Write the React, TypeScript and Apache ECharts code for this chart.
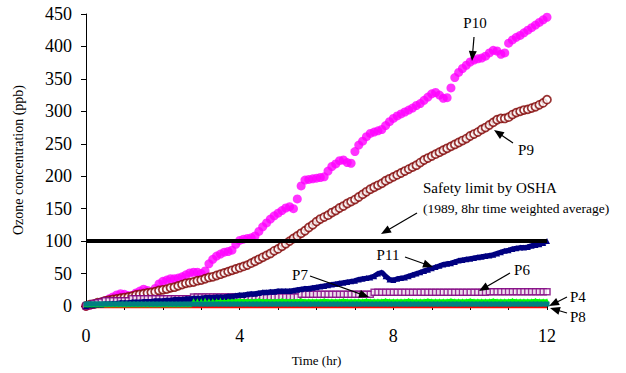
import React, { useEffect, useRef } from "react";
import * as echarts from "echarts";

// Sampling times (hours) shared by all series
const TIME: number[] = Array.from({ length: 121 }, (_, i) => i / 10);

const X_LABELS = [0, 4, 8, 12];
const OSHA_LIMIT = 100;

const P10 = [
  0, 1, 3, 4, 6, 8, 11, 14, 17, 19,
  18, 16, 16, 20, 23, 26, 24, 20, 27, 34,
  38, 40, 42, 42, 43, 45, 48, 51, 52, 52,
  50, 54, 65, 72, 77, 80, 83, 84, 86, 95,
  101, 103, 104, 105, 108, 115, 122, 128, 134, 139,
  143, 147, 151, 153, 150, 165, 185, 194, 195, 196,
  197, 198, 199, 208, 215, 219, 224, 225, 221, 220,
  238, 248, 254, 261, 266, 268, 270, 272, 278, 284,
  289, 293, 296, 299, 302, 305, 309, 312, 317, 322,
  327, 329, 325, 320, 321, 336, 352, 360, 366, 371,
  376, 379, 381, 382, 385, 390, 394, 393, 388, 390,
  405, 410, 414, 417, 421, 425, 429, 433, 437, 441,
  445,
];

const P9 = [
  0, 2, 3, 5, 6, 8, 9, 10, 11, 12,
  13, 14, 15, 17, 18, 19, 20, 21, 22, 24,
  25, 26, 28, 29, 31, 33, 35, 36, 37, 39,
  40, 42, 44, 45, 47, 49, 51, 53, 55, 57,
  59, 61, 63, 66, 69, 72, 75, 78, 81, 85,
  88, 92, 96, 100, 104, 108, 112, 116, 121, 125,
  130, 134, 137, 140, 144, 147, 151, 154, 158, 161,
  164, 168, 172, 176, 180, 183, 186, 189, 193, 196,
  199, 202, 205, 208, 211, 214, 217, 221, 225, 228,
  231, 234, 237, 240, 243, 246, 249, 252, 255, 258,
  262, 265, 268, 272, 275, 279, 283, 287, 289, 289,
  291, 295, 298, 300, 302, 303, 305, 307, 310, 313,
  318,
];

const P11 = [
  0, 1, 1, 2, 2, 3, 3, 4, 4, 5,
  5, 5, 6, 6, 6, 7, 7, 7, 8, 8,
  8, 9, 9, 10, 10, 10, 11, 11, 12, 12,
  12, 13, 13, 13, 14, 14, 14, 15, 15, 16,
  17, 17, 18, 19, 19, 20, 21, 21, 22, 22,
  23, 23, 23, 23, 24, 25, 26, 27, 27, 28,
  29, 30, 31, 32, 33, 34, 35, 36, 37, 38,
  39, 41, 42, 43, 44, 46, 50, 52, 46, 41,
  40, 42, 43, 44, 46, 48, 50, 52, 54, 56,
  58, 60, 62, 64, 65, 66, 68, 70, 71, 72,
  73, 74, 75, 76, 77, 78, 79, 81, 83, 85,
  86, 88, 89, 90, 90, 91, 93, 94, 95, 97,
  100,
];

const P6 = [
  0, 2, 4, 5, 6, 8, 8, 8, 8, 8,
  8, 8, 11, 11, 11, 11, 11, 11, 11, 11,
  11, 11, 11, 11, 11, 11, 11, 11, 14, 14,
  14, 14, 14, 14, 14, 14, 14, 14, 14, 14,
  14, 14, 14, 14, 14, 14, 14, 14, 14, 14,
  14, 14, 14, 14, 14, 14, 18, 18, 18, 18,
  18, 18, 18, 18, 18, 18, 18, 18, 18, 18,
  18, 18, 18, 18, 18, 21, 21, 21, 21, 21,
  21, 21, 21, 21, 21, 21, 21, 21, 21, 21,
  21, 21, 21, 21, 21, 21, 21, 21, 21, 21,
  21, 21, 21, 21, 21, 22, 22, 22, 22, 22,
  22, 22, 22, 22, 22, 22, 22, 22, 22, 22,
  22,
];

const P7 = [
  2, 2, 2, 2, 2, 2, 2, 2, 2, 2,
  2, 2, 2, 2, 2, 2, 2, 2, 2, 2,
  2, 2, 2, 2, 2, 2, 2, 2, 8, 8,
  8, 9, 8, 8, 8, 9, 8, 8, 8, 8,
  9, 8, 8, 8, 8, 9, 8, 8, 8, 8,
  8, 9, 8, 8, 8, 8, 9, 8, 8, 8,
  8, 8, 9, 8, 8, 8, 8, 9, 8, 8,
  8, 8, 8, 9, 8, 8, 8, 8, 9, 8,
  8, 8, 8, 8, 9, 8, 8, 8, 8, 9,
  8, 8, 8, 8, 8, 9, 8, 8, 8, 8,
  9, 8, 8, 8, 8, 8, 9, 8, 8, 8,
  8, 9, 8, 8, 8, 8, 8, 9, 8, 8,
  8,
];

const P4 = [
  3, 3, 3, 3, 3, 3, 3, 3, 3, 3,
  3, 3, 3, 3, 3, 3, 3, 3, 3, 3,
  3, 3, 3, 3, 3, 3, 3, 3, 3, 3,
  3, 3, 3, 3, 3, 3, 3, 3, 3, 3,
  3, 3, 3, 3, 3, 3, 3, 3, 3, 3,
  3, 3, 3, 3, 3, 3, 3, 3, 3, 3,
  3, 3, 3, 3, 3, 3, 3, 3, 3, 3,
  3, 3, 3, 3, 3, 3, 3, 3, 3, 3,
  3, 3, 3, 3, 3, 3, 3, 3, 3, 3,
  3, 3, 3, 3, 3, 3, 3, 3, 3, 3,
  3, 3, 3, 3, 3, 3, 3, 3, 3, 3,
  3, 3, 3, 3, 3, 3, 3, 3, 3, 3,
  3,
];

const P8 = [
  -2, -2, -2, -2, -2, -2, -2, -2, -2, -2,
  -2, -2, -2, -2, -2, -2, -2, -2, -2, -2,
  -2, -2, -2, -2, -2, -2, -2, -2, -2, -2,
  -2, -2, -2, -2, -2, -2, -2, -2, -2, -2,
  -2, -2, -2, -2, -2, -2, -2, -2, -2, -2,
  -2, -2, -2, -2, -2, -2, -2, -2, -2, -2,
  -2, -2, -2, -2, -2, -2, -2, -2, -2, -2,
  -2, -2, -2, -2, -2, -2, -2, -2, -2, -2,
  -2, -2, -2, -2, -2, -2, -2, -2, -2, -2,
  -2, -2, -2, -2, -2, -2, -2, -2, -2, -2,
  -2, -2, -2, -2, -2, -2, -2, -2, -2, -2,
  -2, -2, -2, -2, -2, -2, -2, -2, -2, -2,
  -2,
];

const FONT = "'Liberation Serif', 'Times New Roman', serif";

const pairs = (vals: number[]) => vals.map((v, i) => [TIME[i], v]);

function arrow(x1: number, y1: number, x2: number, y2: number) {
  const dx = x2 - x1;
  const dy = y2 - y1;
  const len = Math.hypot(dx, dy);
  const ux = dx / len;
  const uy = dy / len;
  const hl = 10;
  const hw = 4;
  const bx = x2 - ux * hl;
  const by = y2 - uy * hl;
  const px = -uy;
  const py = ux;
  return [
    {
      type: "line",
      z: 100,
      shape: { x1, y1, x2: bx + ux * 2, y2: by + uy * 2 },
      style: { stroke: "#000", lineWidth: 1.2 },
    },
    {
      type: "polygon",
      z: 100,
      shape: {
        points: [
          [x2, y2],
          [bx + px * hw, by + py * hw],
          [bx - px * hw, by - py * hw],
        ],
      },
      style: { fill: "#000" },
    },
  ];
}

function label(text: string, x: number, y: number, size: number, align = "center") {
  return {
    type: "text",
    z: 100,
    x,
    y,
    style: {
      text,
      fill: "#000",
      font: `${size}px ${FONT}`,
      align,
      verticalAlign: "middle",
    },
  };
}

export default function App() {
  const ref = useRef<HTMLDivElement>(null);

  useEffect(() => {
    document.body.style.margin = "0";
    if (!ref.current) return;
    const chart = echarts.init(ref.current, undefined, { renderer: "svg" });

    const graphic: any[] = [
      label("P10", 475, 23, 15),
      ...arrow(474, 37, 472, 61),
      label("P9", 526, 150, 15),
      ...arrow(513, 143, 494, 130),
      label("Safety limit by OSHA", 423, 188, 15, "left"),
      label("(1989, 8hr time weighted average)", 423, 208, 13.5, "left"),
      ...arrow(417, 213, 381, 234),
      label("P11", 388, 255, 15),
      ...arrow(405, 257, 433, 267),
      label("P6", 522, 270, 15),
      ...arrow(510, 273, 479, 291),
      label("P7", 300, 275, 15),
      ...arrow(310, 276, 369, 297),
      label("P4", 570, 297, 15, "left"),
      ...arrow(567, 297, 549, 306),
      label("P8", 570, 317, 15, "left"),
      ...arrow(567, 313, 550, 308),
    ];

    chart.setOption({
      animation: false,
      backgroundColor: "#fff",
      grid: { left: 86, top: 14, width: 461, height: 292 },
      xAxis: {
        type: "value",
        min: 0,
        max: 12,
        interval: 1,
        axisLine: { show: true, onZero: false, lineStyle: { color: "#000", width: 1 } },
        axisTick: { show: true, length: 4, lineStyle: { color: "#000" } },
        axisLabel: {
          margin: 21,
          fontSize: 18,
          fontFamily: FONT,
          color: "#000",
          formatter: (v: number) => (X_LABELS.includes(v) ? String(v) : ""),
        },
        splitLine: { show: false },
        name: "Time (hr)",
        nameLocation: "middle",
        nameGap: 48,
        nameTextStyle: { fontSize: 13, fontFamily: FONT, color: "#000" },
      },
      yAxis: {
        type: "value",
        min: 0,
        max: 450,
        interval: 50,
        axisLine: { show: true, lineStyle: { color: "#000", width: 1 } },
        axisTick: { show: true, length: 5, lineStyle: { color: "#000" } },
        axisLabel: { margin: 14, fontSize: 18, fontFamily: FONT, color: "#000" },
        splitLine: { show: false },
        name: "Ozone concentration (ppb)",
        nameLocation: "middle",
        nameGap: 61,
        nameRotate: 90,
        nameTextStyle: { fontSize: 14, fontFamily: FONT, color: "#000" },
      },
      series: [
        {
          name: "P10",
          type: "scatter",
          data: pairs(P10),
          symbol: "circle",
          symbolSize: 9,
          itemStyle: { color: "#FF00FF" },
        },
        {
          name: "P9",
          type: "scatter",
          data: pairs(P9),
          symbol: "circle",
          symbolSize: 8,
          itemStyle: { color: "#fff", borderColor: "#800000", borderWidth: 1.7 },
        },
        {
          name: "P11",
          type: "line",
          data: pairs(P11),
          symbol: "triangle",
          symbolSize: 6,
          showAllSymbol: true,
          lineStyle: { color: "#000080", width: 5 },
          itemStyle: { color: "#000080" },
        },
        {
          name: "P6",
          type: "scatter",
          data: pairs(P6),
          symbol: "rect",
          symbolSize: 6,
          itemStyle: { color: "#fff", borderColor: "#800080", borderWidth: 1.5 },
        },
        {
          name: "P7",
          type: "line",
          data: pairs(P7),
          symbol: "triangle",
          symbolSize: 5,
          showAllSymbol: true,
          lineStyle: { color: "#00FF00", width: 3 },
          itemStyle: { color: "#00FF00" },
        },
        {
          name: "P4",
          type: "line",
          data: pairs(P4),
          symbol: "rect",
          symbolSize: 5,
          showAllSymbol: true,
          lineStyle: { color: "#008080", width: 5 },
          itemStyle: { color: "#008080" },
        },
        {
          name: "P8",
          type: "line",
          data: pairs(P8),
          showSymbol: false,
          clip: false,
          lineStyle: { color: "#FF0000", width: 2 },
        },
        {
          name: "OSHA",
          type: "line",
          data: [
            [TIME[0], OSHA_LIMIT],
            [TIME[TIME.length - 1], OSHA_LIMIT],
          ],
          showSymbol: false,
          lineStyle: { color: "#000", width: 4 },
          z: 5,
        },
      ],
      graphic,
    });

    return () => chart.dispose();
  }, []);

  return <div ref={ref} style={{ width: 626, height: 373 }} />;
}
